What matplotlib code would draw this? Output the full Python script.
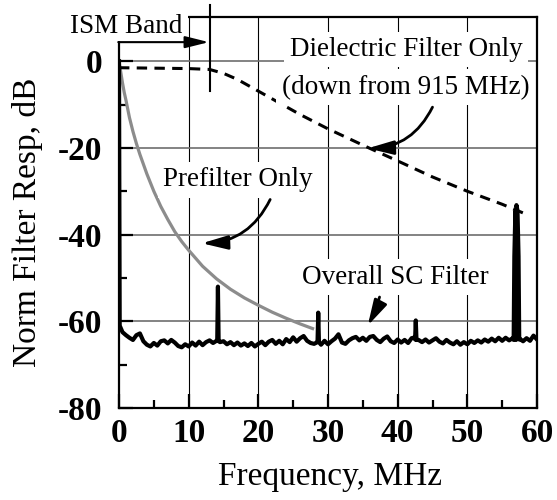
import numpy as np
import matplotlib
matplotlib.use("Agg")
import matplotlib.pyplot as plt
from matplotlib.patches import Rectangle

plt.rcParams['font.family'] = ['Liberation Serif', 'DejaVu Serif']

# ---------------- data ----------------
diel_freq = [0, 5, 10, 13, 15, 17, 19, 22, 26, 30, 36, 40, 45, 50, 55, 58]
diel_db = [-1.5, -1.6, -1.7, -1.9, -2.8, -4.2, -6.0, -8.7, -12.3, -15.6,
           -20.1, -23.0, -26.7, -30.0, -33.0, -35.0]

pre_freq = [0, 0.25, 0.5, 0.75, 1, 1.5, 2, 2.5, 3, 4, 5, 6, 7, 8, 9, 10,
            12, 14, 16, 18, 20, 22, 24, 26, 28]
pre_db = [0, -2.5, -5, -7.2, -9, -13, -16.2, -19, -21.5, -26, -30, -33.5,
          -36.5, -39.3, -41.6, -43.6, -47.3, -50.2, -52.6, -54.6, -56.3,
          -57.9, -59.3, -60.6, -61.8]

sc_base_freq = np.arange(0.5, 60.01, 0.5)
sc_base_db = [
    -62.5, -63.2, -63.8, -64.3, -63.2, -62.8, -64.6, -65.4, -65.8, -65.0,
    -65.6, -64.6, -64.4, -65.1, -64.3, -64.9, -65.7, -66.0, -65.3, -65.8,
    -64.9, -65.6, -64.7, -65.5, -64.8, -64.4, -65.0, -64.5, -64.8, -64.6,
    -65.3, -64.8, -65.5, -64.9, -65.6, -65.1, -65.7, -65.0, -65.8, -65.2,
    -64.7, -65.5, -64.7, -64.3, -65.2, -64.5, -65.3, -64.1, -64.8, -63.7,
    -64.7, -63.9, -63.4, -64.5, -65.0, -65.2, -64.8, -65.4, -64.5, -65.3,
    -64.6, -64.0, -63.0, -64.9, -65.2, -64.4, -63.9, -63.6, -64.4, -63.8,
    -64.5, -63.6, -63.4, -64.3, -64.8, -64.0, -63.5, -64.6, -65.0, -64.2,
    -64.9, -64.3, -65.0, -63.9, -63.7, -64.3, -64.8, -64.2, -64.9, -64.4,
    -63.9, -64.7, -65.1, -64.3, -64.9, -65.3, -64.6, -65.4, -64.8, -65.3,
    -64.5, -65.0, -64.4, -64.9, -64.2, -64.7, -64.0, -64.6, -63.8, -64.5,
    -63.8, -64.4, -63.9, -64.3, -64.0, -64.6, -63.9, -64.5, -63.3, -64.2,
]
spike_freq = [0.0, 0.1, 14.1, 14.2, 14.3, 28.5, 28.6, 28.7, 42.5, 42.6, 42.7,
              56.65, 56.75, 56.9, 57.05, 57.2, 57.35, 57.45]
spike_db = [0.0, -61.0, -64.5, -52.0, -64.6, -64.6, -58.0, -64.8, -64.2, -59.8,
            -64.3, -64.3, -45.0, -34.5, -33.2, -34.5, -45.0, -64.2]

sc_freq = np.concatenate([sc_base_freq, spike_freq])
sc_db = np.concatenate([sc_base_db, spike_db])
order = np.argsort(sc_freq, kind='stable')
sc_freq = sc_freq[order]
sc_db = sc_db[order]

x_ticks = [0, 10, 20, 30, 40, 50, 60]
y_ticks = [0, -20, -40, -60, -80]

# ---------------- figure ----------------
fig = plt.figure(figsize=(5.57, 5.0), dpi=100)
ax = fig.add_axes([119/557, 1-408/500, (537-119)/557, (408-17)/500])
ax.set_xlim(0, 60)
ax.set_ylim(-80, 10.2)

# grid
for xv in [10, 20, 30, 40, 50]:
    ax.axvline(xv, color='black', lw=0.8, zorder=1)
for yv in [0, -20, -40, -60]:
    ax.axhline(yv, color='#6e6e6e', lw=1.2, zorder=1)

ax.plot(pre_freq, pre_db, color='#8c8c8c', lw=2.3, zorder=3,
        solid_capstyle='butt', solid_joinstyle='round')
ax.plot(diel_freq, diel_db, color='black', lw=2.2, zorder=3,
        linestyle=(0, (3.4, 2.4)))
ax.plot(sc_freq, sc_db, color='black', lw=3.0, zorder=3.5,
        solid_joinstyle='round')

for s in ax.spines.values():
    s.set_linewidth(1.6)

ax.set_xticks(x_ticks)
ax.set_xticklabels([str(v) for v in x_ticks])
ax.set_yticks(y_ticks)
ax.set_yticklabels([str(v) for v in y_ticks])
ax.set_xticks([5, 15, 25, 35, 45, 55], minor=True)
ax.set_yticks([0, -10, -30, -50, -70], minor=True)
ax.tick_params(which='major', direction='in', length=10, width=1.6,
               labelsize=24, pad=7, top=False, right=False)
ax.tick_params(axis='y', which='major', pad=12)
ax.tick_params(which='minor', direction='in', length=6, width=1.6,
               top=False, right=False)
for lab in ax.get_xticklabels() + ax.get_yticklabels():
    lab.set_fontweight('bold')

fig.text(330/557, 1-477/500, 'Frequency, MHz', fontsize=24,
         ha='center', va='center')
fig.text(28/557, 1-222/500, 'Norm Filter Resp, dB', fontsize=24,
         ha='center', va='center', rotation=90)

box = dict(boxstyle='square,pad=0.2', fc='white', ec='none')

# ISM band marker
ax.add_patch(Rectangle((-1.5, 4.6), 11.4, 10, facecolor='white',
                       edgecolor='none', clip_on=False, zorder=4))
ax.text(1.1, 8.0, 'ISM Band', fontsize=19.5, ha='center', va='center',
        zorder=5, clip_on=False)
ax.annotate('', xy=(12.9, 4.4), xytext=(-0.1, 4.4), zorder=6,
            arrowprops=dict(arrowstyle='-|>,head_length=1.2,head_width=0.3',
                            mutation_scale=12, lw=1.5, color='black',
                            shrinkA=0, shrinkB=0), annotation_clip=False)
ax.plot([13, 13], [13.0, -6.9], color='black', lw=1.5, clip_on=False,
        zorder=6)

# Dielectric filter annotation
ax.text(41.2, 2.7, 'Dielectric Filter Only', fontsize=19.5, ha='center',
        va='center', bbox=box, zorder=5)
ax.text(41.1, -6.0, '(down from 915 MHz)', fontsize=19.5, ha='center',
        va='center', bbox=box, zorder=5)
ax.annotate('', xy=(35.7, -20.1), xytext=(45.0, -10.6), zorder=6,
            arrowprops=dict(arrowstyle='-|>,head_length=1.3,head_width=0.35',
                            mutation_scale=12, lw=2.0, color='black',
                            shrinkA=0, shrinkB=0,
                            connectionstyle='arc3,rad=-0.3'))

# Prefilter annotation
ax.text(17.1, -27.4, 'Prefilter Only', fontsize=19.5, ha='center',
        va='center', bbox=box, zorder=5)
ax.annotate('', xy=(11.9, -42.0), xytext=(21.7, -31.9), zorder=6,
            arrowprops=dict(arrowstyle='-|>,head_length=1.3,head_width=0.35',
                            mutation_scale=12, lw=2.0, color='black',
                            shrinkA=0, shrinkB=0,
                            connectionstyle='arc3,rad=-0.3'))

# Overall SC annotation
ax.text(39.7, -49.8, 'Overall SC Filter', fontsize=19.5, ha='center',
        va='center', bbox=box, zorder=5)
ax.annotate('', xy=(35.7, -61.0), xytext=(37.4, -54.4), zorder=6,
            arrowprops=dict(arrowstyle='-|>,head_length=1.3,head_width=0.35',
                            mutation_scale=12, lw=2.0, color='black',
                            shrinkA=0, shrinkB=0,
                            connectionstyle='arc3,rad=-0.05'))

fig.savefig('out.png', dpi=100)
